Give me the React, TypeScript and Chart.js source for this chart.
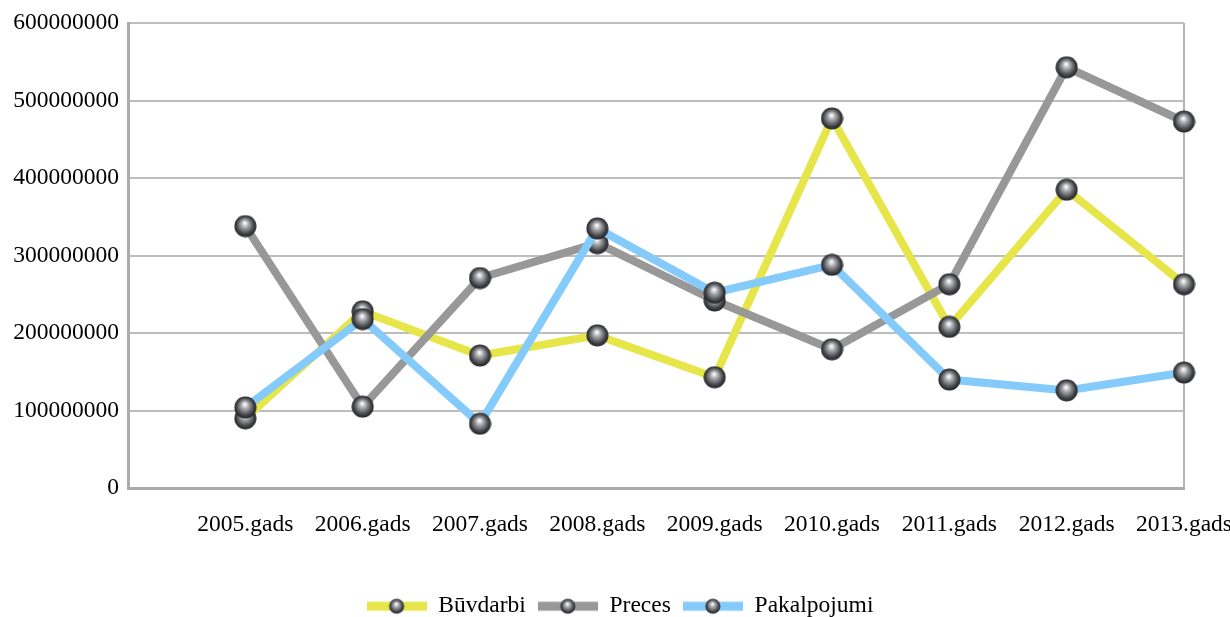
import React, { useEffect, useRef } from 'react';
import { Chart, registerables } from 'chart.js';

Chart.register(...registerables);

const years = ['2005.gads', '2006.gads', '2007.gads', '2008.gads', '2009.gads', '2010.gads', '2011.gads', '2012.gads', '2013.gads'];
const buvdarbi = [90e6, 228e6, 171e6, 197e6, 143e6, 477e6, 208e6, 385e6, 263e6];
const preces = [338e6, 105e6, 271e6, 316e6, 242e6, 179e6, 263e6, 543e6, 473e6];
const pakalpojumi = [104e6, 218e6, 83e6, 335e6, 252e6, 288e6, 140e6, 126e6, 149e6];
const seriesNames = ['Būvdarbi', 'Preces', 'Pakalpojumi'];
const seriesColors = ['#e6e64b', '#989898', '#84cbfb'];
const yMin = 0;
const yMax = 600000000;
const yStep = 100000000;

const W = 1230;
const H = 628;
const FONT = "'Liberation Serif', 'Times New Roman', serif";
const FS = 23.5;

function makeSphere(d: number): HTMLCanvasElement {
  const c = document.createElement('canvas');
  c.width = d;
  c.height = d;
  const g = c.getContext('2d')!;
  const r = d / 2;
  const grad = g.createRadialGradient(r * 0.95, r * 0.72, r * 0.05, r, r, r);
  grad.addColorStop(0, '#fafafa');
  grad.addColorStop(0.3, '#a6a8ac');
  grad.addColorStop(0.72, '#46484c');
  grad.addColorStop(1, '#1b1c1f');
  g.fillStyle = grad;
  g.beginPath();
  g.arc(r, r, r - 0.5, 0, Math.PI * 2);
  g.fill();
  return c;
}

function makeLegendIcon(color: string, w: number, h: number, sphere: HTMLCanvasElement): HTMLCanvasElement {
  const c = document.createElement('canvas');
  c.width = w;
  c.height = h;
  const g = c.getContext('2d')!;
  g.fillStyle = color;
  g.fillRect(0, h / 2 - 4.5, w, 9);
  g.drawImage(sphere, (w - sphere.width) / 2, (h - sphere.height) / 2);
  return c;
}

const legendShift = {
  id: 'legendShift',
  afterLayout(chart: any) {
    if (chart.legend) {
      chart.legend.left += 28;
      chart.legend.right += 28;
    }
  },
};

export default function App() {
  const ref = useRef<HTMLCanvasElement | null>(null);

  useEffect(() => {
    if (!ref.current) return;
    const sphere = makeSphere(23);
    const legendSphere = makeSphere(16);
    const icons = seriesColors.map((c) => makeLegendIcon(c, 60, 20, legendSphere));
    const values = [buvdarbi, preces, pakalpojumi];

    const chart = new Chart(ref.current, {
      type: 'line',
      data: {
        labels: ['', ...years],
        datasets: values.map((vals, i) => ({
          label: seriesNames[i],
          data: years.map((y, j) => ({ x: y, y: vals[j] })),
          borderColor: seriesColors[i],
          backgroundColor: seriesColors[i],
          borderWidth: 8,
          tension: 0,
          pointStyle: sphere as any,
          pointRadius: 11,
          pointHoverRadius: 11,
          clip: false as any,
          order: 2 - i,
        })),
      },
      plugins: [legendShift],
      options: {
        responsive: false,
        animation: false,
        devicePixelRatio: 1,
        layout: { padding: { top: 21, right: 46, left: 0, bottom: 0 } },
        scales: {
          x: {
            type: 'category',
            offset: false,
            grid: {
              drawTicks: false,
              lineWidth: 2,
              color: (ctx: any) => (ctx.index === years.length ? '#b4b4b4' : 'rgba(0,0,0,0)'),
            },
            border: { display: true, color: '#ababab', width: 3 },
            ticks: {
              autoSkip: false,
              maxRotation: 0,
              minRotation: 0,
              padding: 23,
              color: '#000',
              font: { family: FONT, size: FS },
            },
            afterFit: (s: any) => {
              s.height = H - 488 - (s.chart.legend ? s.chart.legend.height : 0);
              s.paddingLeft = 0;
              s.paddingRight = 0;
            },
          },
          y: {
            min: yMin,
            max: yMax,
            grid: { drawTicks: false, lineWidth: 2, color: '#bdbdbd' },
            border: { display: true, color: '#ababab', width: 3 },
            ticks: {
              stepSize: yStep,
              padding: 9,
              color: '#000',
              font: { family: FONT, size: FS },
              callback: (v: any) => String(v),
            },
            afterFit: (s: any) => {
              s.width = 128;
            },
          },
        },
        plugins: {
          tooltip: { enabled: false },
          legend: {
            position: 'bottom',
            labels: {
              usePointStyle: true,
              pointStyleWidth: 60,
              padding: 12,
              color: '#000',
              font: { family: FONT, size: FS },
              sort: (a: any, b: any) => a.datasetIndex - b.datasetIndex,
              generateLabels: (ch: any) => {
                const items = Chart.defaults.plugins.legend.labels.generateLabels(ch);
                return items.map((it: any) => ({ ...it, pointStyle: icons[it.datasetIndex], fontColor: '#000' }));
              },
            },
          },
        },
      },
    });
    return () => chart.destroy();
  }, []);

  return (
    <div style={{ position: 'absolute', left: 0, top: 0, width: W, height: 617, overflow: 'hidden', background: '#fff' }}>
      <canvas ref={ref} width={W} height={H} style={{ display: 'block', width: W, height: H }} />
    </div>
  );
}
